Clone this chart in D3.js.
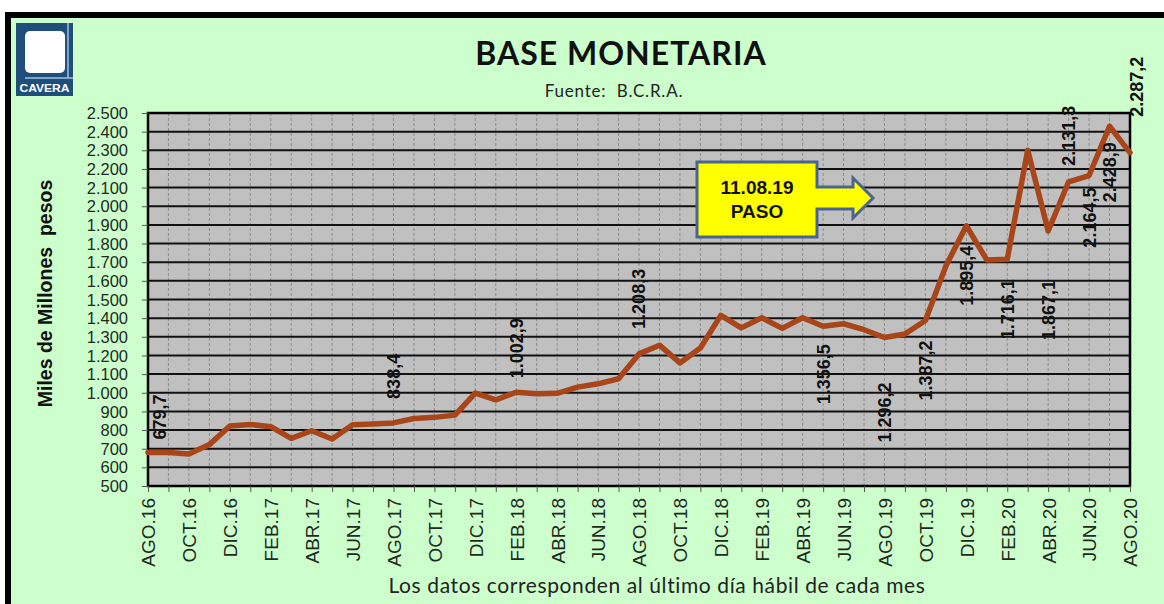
<!DOCTYPE html>
<html>
<head>
<meta charset="utf-8">
<script src="https://cdn.jsdelivr.net/npm/d3@7"></script>
<style>
  body { margin: 0; background: #fff; }
  svg { display: block; }
</style>
</head>
<body>
<svg id="chart"></svg>
<script>
// Meses (último día hábil de cada mes)
const months = [
    "AGO.16", "SEP.16", "OCT.16", "NOV.16", "DIC.16",
    "ENE.17", "FEB.17", "MAR.17", "ABR.17", "MAY.17", "JUN.17", "JUL.17", "AGO.17", "SEP.17", "OCT.17", "NOV.17", "DIC.17",
    "ENE.18", "FEB.18", "MAR.18", "ABR.18", "MAY.18", "JUN.18", "JUL.18", "AGO.18", "SEP.18", "OCT.18", "NOV.18", "DIC.18",
    "ENE.19", "FEB.19", "MAR.19", "ABR.19", "MAY.19", "JUN.19", "JUL.19", "AGO.19", "SEP.19", "OCT.19", "NOV.19", "DIC.19",
    "ENE.20", "FEB.20", "MAR.20", "ABR.20", "MAY.20", "JUN.20", "JUL.20", "AGO.20"
];

// Base monetaria, miles de millones de pesos
const baseMonetaria = [
    679.7, 680, 672, 722, 822,
    830, 818, 755, 796, 752, 828, 832, 838.4, 862, 868, 880, 998,
    962, 1002.9, 995, 997, 1030, 1048, 1075, 1208.3, 1255, 1160, 1240, 1415,
    1348, 1402, 1345, 1402, 1356.5, 1370, 1338, 1296.2, 1315, 1387.2, 1680, 1895.4,
    1712, 1716.1, 2300, 1867.1, 2131.3, 2164.5, 2428.9, 2287.2
];

// meses con etiqueta de valor
const labeledMonths = ["AGO.16", "AGO.17", "FEB.18", "AGO.18", "MAY.19", "AGO.19", "OCT.19",
    "DIC.19", "FEB.20", "ABR.20", "MAY.20", "JUN.20", "JUL.20", "AGO.20"];

// rótulos del eje x (cada dos meses)
const tickLabels = months.filter((m, i) => i % 2 === 0);

const yTicks = d3.range(500, 2501, 100);

// posición de cada etiqueta: desplazamiento vertical (negativo = arriba) y horizontal
const labelLayout = {
    "AGO.16": [-13, 12], "AGO.17": [-24, 0], "FEB.18": [-14, 0], "AGO.18": [-25, 0],
    "MAY.19": [18, 0], "AGO.19": [45, 0], "OCT.19": [20, 0], "DIC.19": [20, 0],
    "FEB.20": [20, 0], "ABR.20": [49, 0], "MAY.20": [-16, 0], "JUN.20": [12, 0],
    "JUL.20": [16, 0], "AGO.20": [-36, 7]
};

const width = 1164, height = 604;
const plot = { left: 148, right: 1130, top: 113, bottom: 486 };
const arial = "'Liberation Sans', Arial, sans-serif";
const calibri = "Lato, 'Open Sans', sans-serif";

const es = d3.formatLocale({ decimal: ",", thousands: ".", grouping: [3], currency: ["$", ""] });
const fmtVal = es.format(",.1f");
const fmtTick = es.format(",.0f");

const svg = d3.select("#chart").attr("width", width).attr("height", height);

// fondo: franja blanca de planilla + recuadro verde
svg.append("rect").attr("width", width).attr("height", height).attr("fill", "#ffffff");
svg.append("rect").attr("x", 8).attr("y", 15).attr("width", width + 20).attr("height", height + 20)
    .attr("fill", "#ccffcc").attr("stroke", "#000").attr("stroke-width", 6);

// logo CAVERA
const logo = svg.append("g");
logo.append("rect").attr("x", 16).attr("y", 23).attr("width", 57).attr("height", 73).attr("fill", "#1f4e7a");
logo.append("rect").attr("x", 25).attr("y", 31).attr("width", 40).attr("height", 42).attr("rx", 5).attr("fill", "#ffffff");
logo.append("line").attr("x1", 68).attr("y1", 23).attr("x2", 68).attr("y2", 78).attr("stroke", "#9fc3e6").attr("stroke-width", 1.5);
logo.append("line").attr("x1", 25).attr("y1", 78).attr("x2", 73).attr("y2", 78).attr("stroke", "#9fc3e6").attr("stroke-width", 1.5);
logo.append("text").attr("x", 44.5).attr("y", 92).attr("text-anchor", "middle")
    .attr("font-family", arial).attr("font-weight", "bold").attr("font-size", 10.5)
    .attr("fill", "#fff").attr("textLength", 50).attr("lengthAdjust", "spacingAndGlyphs").text("CAVERA");

// títulos
svg.append("text").attr("x", 621).attr("y", 65).attr("text-anchor", "middle")
    .attr("font-family", calibri).attr("font-weight", "bold").attr("font-size", 32)
    .attr("letter-spacing", 1).attr("fill", "#111").text("BASE MONETARIA");
svg.append("text").attr("x", 614).attr("y", 97).attr("text-anchor", "middle")
    .attr("font-family", calibri).attr("font-size", 17).attr("letter-spacing", 0.8)
    .attr("fill", "#222").attr("xml:space", "preserve").text("Fuente:  B.C.R.A.");

// escalas
const x = d3.scalePoint().domain(months).range([plot.left, plot.right]);
const y = d3.scaleLinear().domain([500, 2500]).range([plot.bottom, plot.top]);

// área del gráfico
svg.append("rect").attr("x", plot.left).attr("y", plot.top)
    .attr("width", plot.right - plot.left).attr("height", plot.bottom - plot.top)
    .attr("fill", "#c0c0c0");

// grilla vertical (cada mes)
svg.append("g").selectAll("line").data(months).join("line")
    .attr("x1", d => x(d)).attr("x2", d => x(d))
    .attr("y1", plot.top).attr("y2", plot.bottom)
    .attr("stroke", "#8c8c8c").attr("stroke-width", 1).attr("stroke-dasharray", "3,2");

// grilla horizontal
svg.append("g").selectAll("line").data(yTicks.slice(1, -1)).join("line")
    .attr("x1", plot.left).attr("x2", plot.right)
    .attr("y1", d => y(d)).attr("y2", d => y(d))
    .attr("stroke", "#111").attr("stroke-width", 2);

svg.append("rect").attr("x", plot.left).attr("y", plot.top)
    .attr("width", plot.right - plot.left).attr("height", plot.bottom - plot.top)
    .attr("fill", "none").attr("stroke", "#000").attr("stroke-width", 2.5);

// eje y
const yAxis = svg.append("g").attr("transform", `translate(${plot.left},0)`)
    .call(d3.axisLeft(y).tickValues(yTicks).tickFormat(fmtTick).tickSize(6).tickPadding(14));
yAxis.select(".domain").remove();
yAxis.selectAll(".tick line").attr("stroke", "#555");
yAxis.selectAll("text").attr("font-family", arial).attr("font-size", 16.5).attr("fill", "#1e2a1e")
    .attr("dy", "0.34em");

// eje x: marcas en cada mes
const xTicks = svg.append("g").attr("transform", `translate(0,${plot.bottom})`)
    .call(d3.axisBottom(x).tickSize(6).tickFormat(""));
xTicks.select(".domain").remove();
xTicks.selectAll(".tick line").attr("stroke", "#555");

// rótulos del eje x
const xAxis = svg.append("g").attr("transform", `translate(0,${plot.bottom})`)
    .call(d3.axisBottom(x).tickValues(tickLabels).tickSize(0));
xAxis.select(".domain").remove();
xAxis.selectAll("text")
    .attr("font-family", arial).attr("font-size", 19).attr("fill", "#1e2a1e")
    .attr("transform", "rotate(-90)")
    .attr("text-anchor", "end")
    .attr("x", -12).attr("y", 0).attr("dy", "0.36em");

// títulos de ejes
svg.append("text")
    .attr("transform", `translate(52,${(plot.top + plot.bottom) / 2 - 6}) rotate(-90)`)
    .attr("text-anchor", "middle")
    .attr("font-family", arial).attr("font-weight", "bold").attr("font-size", 19.5)
    .attr("fill", "#111").attr("xml:space", "preserve").text("Miles de Millones  pesos");
svg.append("text").attr("x", 657).attr("y", 593).attr("text-anchor", "middle")
    .attr("font-family", calibri).attr("font-size", 21).attr("letter-spacing", 0.6)
    .attr("fill", "#222").text("Los datos corresponden al último día hábil de cada mes");

// serie
const series = months.map((m, i) => ({ month: m, value: baseMonetaria[i] }));
const line = d3.line().x(d => x(d.month)).y(d => y(d.value));
svg.append("path").datum(series)
    .attr("d", line)
    .attr("fill", "none").attr("stroke", "#a8461a").attr("stroke-width", 5.5)
    .attr("stroke-linejoin", "round").attr("stroke-linecap", "round");

// etiquetas de valores
svg.append("g").selectAll("text")
    .data(series.filter(d => labeledMonths.includes(d.month)))
    .join("text")
    .attr("transform", d => {
        const [dy, dx] = labelLayout[d.month];
        return `translate(${x(d.month) + dx},${y(d.value) + dy}) rotate(-90)`;
    })
    .attr("text-anchor", d => labelLayout[d.month][0] < 0 ? "start" : "end")
    .attr("dy", "0.36em")
    .attr("font-family", arial).attr("font-weight", "bold").attr("font-size", 18)
    .attr("fill", "#111")
    .text(d => fmtVal(d.value));

// recuadro PASO con flecha
const callout = svg.append("g");
callout.append("path")
    .attr("d", "M697,162 H817 V187 H853 V178 L873,198 L853,218 V209 H817 V237 H697 Z")
    .attr("fill", "#ffff00").attr("stroke", "#4a6590").attr("stroke-width", 3)
    .attr("stroke-linejoin", "miter");
callout.append("text").attr("x", 757).attr("y", 194).attr("text-anchor", "middle")
    .attr("font-family", arial).attr("font-weight", "bold").attr("font-size", 19)
    .attr("fill", "#111").text("11.08.19");
callout.append("text").attr("x", 757).attr("y", 218).attr("text-anchor", "middle")
    .attr("font-family", arial).attr("font-weight", "bold").attr("font-size", 19)
    .attr("fill", "#111").text("PASO");
</script>
</body>
</html>
